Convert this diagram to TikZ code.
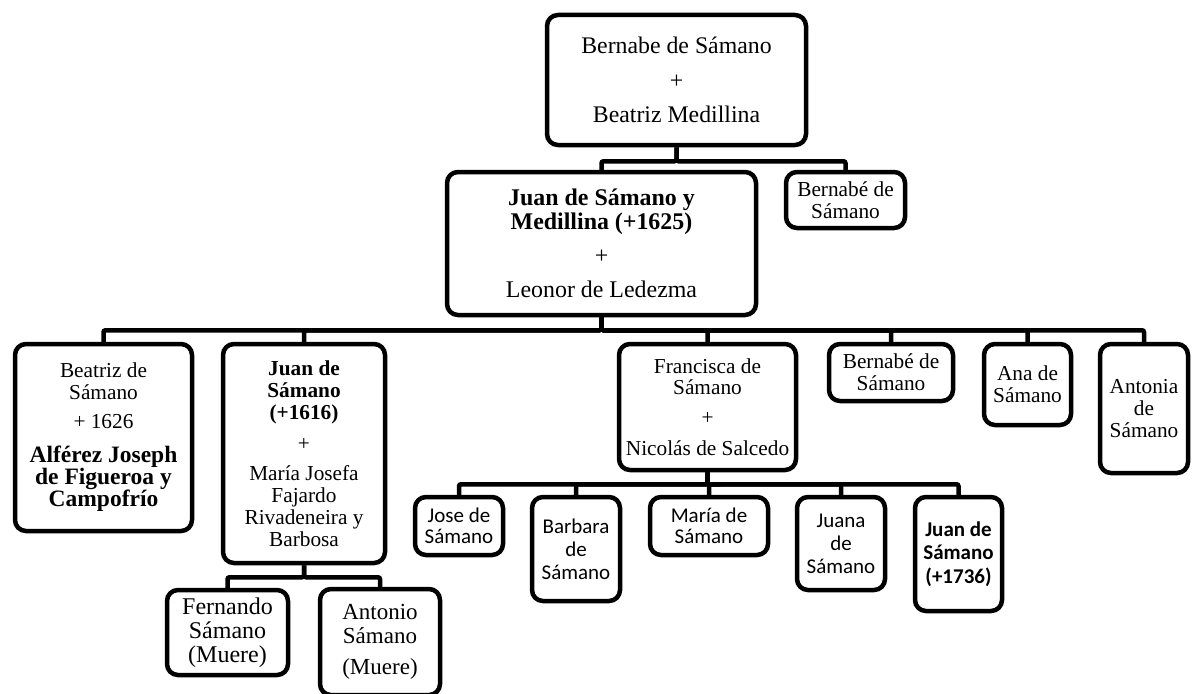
\documentclass[tikz,border=0pt]{standalone}
\usepackage{fontspec}
\setmainfont{Liberation Serif}
\newfontfamily\calibri{Carlito}
\usetikzlibrary{positioning}
\tikzset{
    person/.style={draw, line width=4.5pt, rounded corners=11pt, align=center, inner sep=0pt, fill=white},
    link/.style={line width=4.5pt, rounded corners=2pt},
    serifbox/.style={person, font=\fontsize{21.3}{22}\selectfont},
    sansbox/.style={person, font=\calibri\fontsize{21}{23}\selectfont},
}

\begin{document}
\begin{tikzpicture}[x=1pt, y=-1pt]
            \useasboundingbox (0,0) rectangle (1196,693);

            % First generation
            \node[person, font=\fontsize{23.8}{34.5}\selectfont, minimum width=259pt, minimum height=130pt] (top) at (676.5,80) {Bernabe de Sámano\\ +\\ Beatriz Medillina};

            % Second generation
            \node[person, font=\fontsize{23.9}{23.5}\selectfont, minimum width=309pt, minimum height=143pt] (juan) at (601.5,243.5) {\textbf{Juan de Sámano y}\\ \textbf{Medillina (+1625)}\\[11pt] +\\[10pt] Leonor de Ledezma};
            \node[serifbox, minimum width=119pt, minimum height=56pt] (bernA) at (845.5,200) {Bernabé de\\ Sámano};

            % Third generation
            \node[serifbox, minimum width=177pt, minimum height=187pt] (beatriz) at (103.5,437.5) {Beatriz de\\ Sámano\\[7pt] + 1626\\[12pt] {\fontsize{23.5}{22}\selectfont\bfseries Alférez Joseph}\\ {\fontsize{23.5}{22}\selectfont\bfseries de Figueroa y}\\ {\fontsize{23.5}{22}\selectfont\bfseries Campofrío}};
            \node[serifbox, minimum width=162pt, minimum height=219pt] (juanB) at (304,453.5) {\textbf{Juan de}\\ \textbf{Sámano}\\ \textbf{(+1616)}\\[9pt] +\\[8pt] María Josefa\\ Fajardo\\ Rivadeneira y\\ Barbosa};
            \node[serifbox, font=\fontsize{21.3}{21}\selectfont, minimum width=177pt, minimum height=126pt] (francisca) at (707.5,407) {Francisca de\\ Sámano\\[9pt] +\\[10pt] Nicolás de Salcedo};
            \node[serifbox, minimum width=124pt, minimum height=57pt] (bernB) at (891,372.5) {Bernabé de\\ Sámano};
            \node[serifbox, minimum width=87pt, minimum height=81pt] (ana) at (1027.5,384.5) {Ana de\\ Sámano};
            \node[serifbox, minimum width=88pt, minimum height=129pt] (antonia) at (1144,408.5) {Antonia\\ de\\ Sámano};

            % Children of Francisca
            \node[sansbox, font=\calibri\fontsize{21}{21.5}\selectfont, minimum width=88pt, minimum height=58pt] (jose) at (459,526) {Jose de\\ Sámano};
            \node[sansbox, minimum width=88pt, minimum height=104pt] (barbara) at (576,549) {Barbara\\ de\\ Sámano};
            \node[sansbox, font=\calibri\fontsize{21}{21.5}\selectfont, minimum width=118pt, minimum height=58pt] (maria) at (709,526) {María de\\ Sámano};
            \node[sansbox, minimum width=88pt, minimum height=93pt] (juana) at (841,543.5) {Juana\\ de\\ Sámano};
            \node[sansbox, font=\calibri\bfseries\fontsize{21}{23.5}\selectfont, minimum width=87pt, minimum height=114pt] (juanC) at (958.5,554) {Juan de\\ Sámano\\ (+1736)};

            % Children of Juan (+1616)
            \node[serifbox, font=\fontsize{24}{24}\selectfont, minimum width=121pt, minimum height=85pt] (fernando) at (227.5,632.5) {Fernando\\ Sámano\\ (Muere)};
            \node[serifbox, font=\fontsize{23}{24}\selectfont, minimum width=120pt, minimum height=106pt] (antonio) at (380,642) {Antonio\\ Sámano\\[7pt] (Muere)};

            % Lines of descent
            \draw[link] (top.south) -- ++(0,14) -| (juan.north);
            \draw[link] (top.south) -- ++(0,14) -| (bernA.north);
            \draw[link] (juan.south) -- ++(0,13) -| (beatriz.north);
            \draw[link] (juan.south) -- ++(0,13) -| (juanB.north);
            \draw[link] (juan.south) -- ++(0,13) -| (francisca.north);
            \draw[link] (juan.south) -- ++(0,13) -| (bernB.north);
            \draw[link] (juan.south) -- ++(0,13) -| (ana.north);
            \draw[link] (juan.south) -- ++(0,13) -| (antonia.north);
            \draw[link] (francisca.south) -- ++(0,12) -| (jose.north);
            \draw[link] (francisca.south) -- ++(0,12) -| (barbara.north);
            \draw[link] (francisca.south) -- ++(0,12) -| (maria.north);
            \draw[link] (francisca.south) -- ++(0,12) -| (juana.north);
            \draw[link] (francisca.south) -- ++(0,12) -| (juanC.north);
            \draw[link] (juanB.south) -- ++(0,12) -| (fernando.north);
            \draw[link] (juanB.south) -- ++(0,12) -| (antonio.north);

\end{tikzpicture}
\end{document}
